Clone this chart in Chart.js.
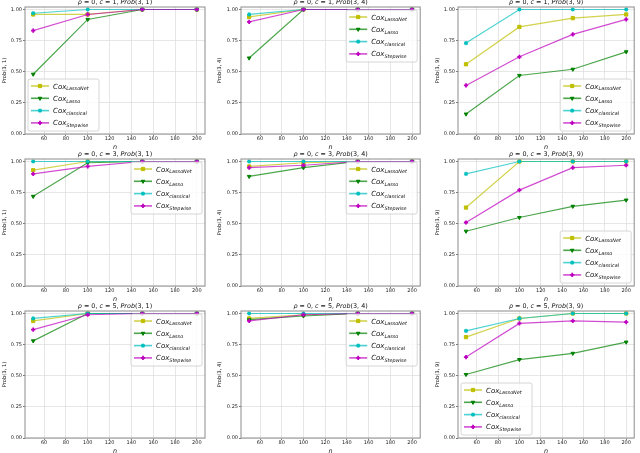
<!DOCTYPE html>
<html>
<head>
<meta charset="utf-8">
<script src="https://cdn.jsdelivr.net/npm/chart.js@4.4.1/dist/chart.umd.min.js"></script>
<style>
  html, body { margin: 0; padding: 0; background: #fff; }
  body { width: 640px; height: 453px; position: relative; overflow: hidden; }
  canvas { position: absolute; }
</style>
</head>
<body>
<script>
const nValues = [50, 100, 150, 200];
const cValues = [1, 3, 5];
const pairLabels = ['(3, 1)', '(3, 4)', '(3, 9)'];
const methodNames = ['LassoNet', 'Lasso', 'classical', 'Stepwise'];

// one row per panel, row-major: c = 1, 3, 5  x  Prob(3,1), Prob(3,4), Prob(3,9)
const lassoNetProb = [
  [0.96, 0.96, 1.00, 1.00],
  [0.94, 1.00, 1.00, 1.00],
  [0.56, 0.86, 0.93, 0.96],
  [0.93, 1.00, 1.00, 1.00],
  [0.96, 0.99, 1.00, 1.00],
  [0.63, 1.00, 1.00, 1.00],
  [0.94, 1.00, 1.00, 1.00],
  [0.96, 0.99, 1.00, 1.00],
  [0.81, 0.96, 1.00, 1.00]
];
const lassoProb = [
  [0.48, 0.92, 1.00, 1.00],
  [0.61, 1.00, 1.00, 1.00],
  [0.16, 0.47, 0.52, 0.66],
  [0.72, 0.99, 1.00, 1.00],
  [0.88, 0.95, 1.00, 1.00],
  [0.44, 0.55, 0.64, 0.69],
  [0.78, 1.00, 1.00, 1.00],
  [0.95, 0.98, 1.00, 1.00],
  [0.51, 0.63, 0.68, 0.77]
];
const classicalProb = [
  [0.97, 1.00, 1.00, 1.00],
  [0.96, 1.00, 1.00, 1.00],
  [0.73, 1.00, 1.00, 1.00],
  [1.00, 1.00, 1.00, 1.00],
  [1.00, 1.00, 1.00, 1.00],
  [0.90, 1.00, 1.00, 1.00],
  [0.96, 1.00, 1.00, 1.00],
  [1.00, 1.00, 1.00, 1.00],
  [0.86, 0.96, 1.00, 1.00]
];
const stepwiseProb = [
  [0.83, 0.96, 1.00, 1.00],
  [0.90, 1.00, 1.00, 1.00],
  [0.39, 0.62, 0.80, 0.92],
  [0.90, 0.96, 1.00, 1.00],
  [0.95, 0.97, 1.00, 1.00],
  [0.51, 0.77, 0.95, 0.97],
  [0.87, 0.99, 1.00, 1.00],
  [0.94, 0.99, 1.00, 1.00],
  [0.65, 0.92, 0.94, 0.93]
];
const allSeries = [lassoNetProb, lassoProb, classicalProb, stepwiseProb];

// styling
const FONT = "'DejaVu Sans', sans-serif";
const markColors = ['#bfbf00', '#008000', '#00bfbf', '#bf00bf'];
const lineColors = ['rgba(191,191,0,0.7)', 'rgba(0,128,0,0.7)', 'rgba(0,191,191,0.7)', 'rgba(191,0,191,0.7)'];
const markStyles = ['rect', 'triangle', 'star', 'cross'];
const markRotation = [0, 180, 0, 0];
const markRadius = [2.3, 2.1, 2.1, 2.1];
const markBorder = [1, 1, 1.1, 1.8];
const legendSpot = ['ll', 'ur', 'lr', 'ur', 'ur', 'lr', 'ur', 'ur', 'll'];

// layout of the 3x3 grid
const colLeft = [0, 213, 426];
const colWidth = [213, 213, 214];
const rowTop = [-6, 146, 298];
const cellHeight = 157;
const padLeft = [1, 3, 8];
const yAxisWidth = [24, 25, 24];
const padRight = [8, 4, 2];

function drawTitle(chart, runs) {
  const ctx = chart.ctx;
  const a = chart.chartArea;
  ctx.save();
  ctx.fillStyle = '#111';
  ctx.textBaseline = 'middle';
  let total = 0;
  for (const r of runs) {
    ctx.font = (r[1] ? 'italic ' : '') + '6.4px ' + FONT;
    total += ctx.measureText(r[0]).width;
  }
  let x = (a.left + a.right) / 2 - total / 2;
  for (const r of runs) {
    ctx.font = (r[1] ? 'italic ' : '') + '6.4px ' + FONT;
    ctx.fillText(r[0], x, 8);
    x += ctx.measureText(r[0]).width;
  }
  ctx.restore();
}

function drawLegend(chart, spot) {
  const ctx = chart.ctx;
  const a = chart.chartArea;
  const w = 71, h = 52, inset = 3;
  const bx = spot[1] === 'l' ? a.left + inset : a.right - inset - w;
  const by = spot[0] === 'u' ? a.top + inset : a.bottom - inset - h;
  ctx.save();
  ctx.fillStyle = 'rgba(255,255,255,0.8)';
  ctx.strokeStyle = '#cccccc';
  ctx.lineWidth = 0.8;
  ctx.beginPath();
  ctx.roundRect(bx, by, w, h, 2);
  ctx.fill();
  ctx.stroke();
  chart.data.datasets.forEach((ds, i) => {
    const y = by + 7 + i * 12.3;
    ctx.strokeStyle = lineColors[i];
    ctx.lineWidth = 1.6;
    ctx.beginPath();
    ctx.moveTo(bx + 3, y);
    ctx.lineTo(bx + 21, y);
    ctx.stroke();
    ctx.fillStyle = markColors[i];
    ctx.strokeStyle = markColors[i];
    ctx.lineWidth = markBorder[i];
    Chart.helpers.drawPoint(ctx, {
      pointStyle: markStyles[i], rotation: markRotation[i],
      radius: markRadius[i], borderWidth: markBorder[i]
    }, bx + 12, y);
    ctx.fillStyle = '#111';
    ctx.textBaseline = 'alphabetic';
    ctx.font = 'italic 7px ' + FONT;
    const tx = bx + 25;
    ctx.fillText('Cox', tx, y + 2.5);
    const cw = ctx.measureText('Cox').width;
    ctx.font = 'italic 4.9px ' + FONT;
    ctx.fillText(methodNames[i], tx + cw, y + 4.3);
  });
  ctx.restore();
}

const panelDecor = {
  id: 'panelDecor',
  afterDatasetsDraw(chart) {
    const {ctx, chartArea: a} = chart;
    ctx.save();
    ctx.strokeStyle = '#8c8c8c';
    ctx.lineWidth = 1;
    ctx.strokeRect(a.left, a.top, a.right - a.left, a.bottom - a.top);
    ctx.restore();
  },
  afterDraw(chart, args, opts) {
    drawTitle(chart, opts.runs);
    drawLegend(chart, opts.spot);
  }
};

for (let row = 0; row < 3; row++) {
  for (let col = 0; col < 3; col++) {
    const p = row * 3 + col;
    const canvas = document.createElement('canvas');
    canvas.width = colWidth[col];
    canvas.height = cellHeight;
    canvas.style.left = colLeft[col] + 'px';
    canvas.style.top = rowTop[row] + 'px';
    document.body.appendChild(canvas);

    const datasets = methodNames.map((m, i) => ({
      label: 'Cox ' + m,
      data: nValues.map((n, k) => ({x: n, y: allSeries[i][p][k]})),
      borderColor: lineColors[i],
      borderWidth: 1.2,
      pointBackgroundColor: markColors[i],
      pointBorderColor: markColors[i],
      pointStyle: markStyles[i],
      pointRotation: markRotation[i],
      pointRadius: markRadius[i],
      pointBorderWidth: markBorder[i],
      tension: 0,
      fill: false,
      order: 3 - i
    }));

    const tickFont = {family: FONT, size: 5};
    new Chart(canvas, {
      type: 'line',
      data: {datasets},
      options: {
        responsive: false,
        animation: false,
        layout: {padding: {left: padLeft[col], right: padRight[col], top: 13, bottom: 0}},
        plugins: {
          legend: {display: false},
          tooltip: {enabled: false},
          panelDecor: {
            spot: legendSpot[p],
            runs: [['ρ', true], [' = 0, ', false], ['c', true], [' = ' + cValues[row] + ', ', false],
                   ['Prob', true], [pairLabels[col], false]]
          }
        },
        scales: {
          x: {
            type: 'linear', min: 42.5, max: 207.5,
            ticks: {stepSize: 20, includeBounds: false, font: tickFont, color: '#222',
                    padding: 0, maxRotation: 0, autoSkip: false,
                    callback: v => String(v)},
            grid: {color: '#e0e0e0', lineWidth: 0.8, tickLength: 2, tickColor: '#555'},
            border: {display: false},
            title: {display: true, text: 'n', color: '#111', padding: 0,
                    font: {family: FONT, size: 6.4, style: 'italic', lineHeight: 1.2}},
            afterFit: s => { s.height = 17; }
          },
          y: {
            min: 0, max: 1.02,
            ticks: {stepSize: 0.25, includeBounds: false, font: tickFont, color: '#222',
                    padding: 1, callback: v => v.toFixed(2)},
            grid: {color: '#e0e0e0', lineWidth: 0.8, tickLength: 2, tickColor: '#555'},
            border: {display: false},
            title: {display: true, text: 'Prob' + pairLabels[col], color: '#111', padding: 0,
                    font: {family: FONT, size: 5.2, lineHeight: 1.4}},
            afterFit: s => { s.width = yAxisWidth[col]; }
          }
        }
      },
      plugins: [panelDecor]
    });
  }
}
</script>
</body>
</html>
